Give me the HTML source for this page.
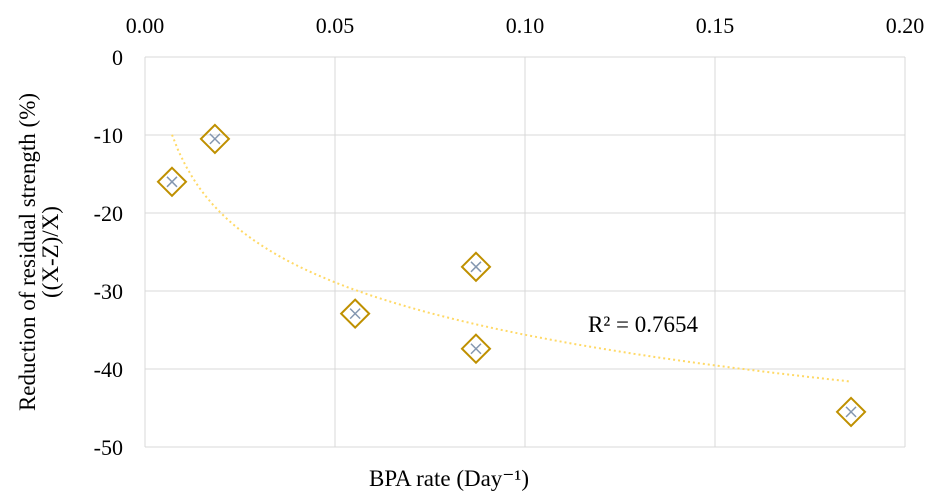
<!DOCTYPE html>
<html><head><meta charset="utf-8"><style>
html,body{margin:0;padding:0;background:#fff;}
svg text{font-family:"Liberation Serif",serif;fill:#000;}
</style></head><body>
<svg id="chart" width="944" height="495" xmlns="http://www.w3.org/2000/svg">
<g id="grid"></g>
<g id="ticks"></g>
<g id="trend"></g>
<g id="pts"></g>
<text x="588" y="332" font-size="23">R² = 0.7654</text>
<text x="449" y="486" font-size="23" text-anchor="middle">BPA rate (Day⁻¹)</text>
<g transform="translate(35,252) rotate(-90)">
<text x="0" y="0" font-size="23" text-anchor="middle">Reduction of residual strength (%)</text>
<text x="0" y="23" font-size="23" text-anchor="middle">((X-Z)/X)</text>
</g>
</svg>
<script>
const xTicks=[0,0.05,0.10,0.15,0.20];
const xTickLabels=["0.00","0.05","0.10","0.15","0.20"];
const yTicks=[0,-10,-20,-30,-40,-50];
const yTickLabels=["0","-10","-20","-30","-40","-50"];
const bpaRate=[0.0071,0.0184,0.0553,0.0871,0.0871,0.1858];
const reduction=[-16.0,-10.5,-32.9,-26.9,-37.4,-45.5];
const NS="http://www.w3.org/2000/svg";
const X=v=>145+v*3800, Y=v=>57-v*7.8;
function mk(t,a,p){const e=document.createElementNS(NS,t);for(const k in a)e.setAttribute(k,a[k]);p.appendChild(e);return e;}
const g=document.getElementById('grid'),tk=document.getElementById('ticks');
xTicks.forEach((v,i)=>{
 const l=mk('line',{x1:X(v),x2:X(v),y1:Y(0),y2:Y(-50),stroke:'#d9d9d9','stroke-width':1},g);
 
 
 const t=mk('text',{x:X(v),y:33,'font-size':22,'text-anchor':'middle'},tk);t.textContent=xTickLabels[i];
 
 
});
yTicks.forEach((v,i)=>{
 const l=mk('line',{x1:X(0),x2:X(0.2),y1:Y(v),y2:Y(v),stroke:'#d9d9d9','stroke-width':1},g);
 
 
 const t=mk('text',{x:123,y:Y(v)+8,'font-size':22,'text-anchor':'end'},tk);t.textContent=yTickLabels[i];
 
 
});
const lx=bpaRate.map(Math.log),n=lx.length;
const mx=lx.reduce((a,b)=>a+b)/n,my=reduction.reduce((a,b)=>a+b)/n;
let sxy=0,sxx=0;lx.forEach((v,i)=>{sxy+=(v-mx)*(reduction[i]-my);sxx+=(v-mx)*(v-mx);});
const A=sxy/sxx,B=my-A*mx;
const x0=Math.min(...bpaRate),x1=Math.max(...bpaRate);let d='';
for(let i=0;i<=100;i++){const xv=x0+(x1-x0)*i/100;d+=(i?'L':'M')+X(xv).toFixed(1)+','+Y(A*Math.log(xv)+B).toFixed(1);}
const tl=mk('path',{d:d,fill:'none',stroke:'#FFD966','stroke-width':2,'stroke-dasharray':'2,3'},document.getElementById('trend'));


const pg=document.getElementById('pts');
bpaRate.forEach((v,i)=>{
 const cx=X(v),cy=Y(reduction[i]),r=14,s=5;
 const gg=mk('g',{},pg);
 
 
 mk('path',{d:`M${cx},${cy-r}L${cx+r},${cy}L${cx},${cy+r}L${cx-r},${cy}Z`,fill:'none',stroke:'#BF9000','stroke-width':2},gg);
 mk('path',{d:`M${cx-s},${cy-s}L${cx+s},${cy+s}M${cx+s},${cy-s}L${cx-s},${cy+s}`,stroke:'#8497B0','stroke-width':1.5},gg);
});
</script>
</body></html>
